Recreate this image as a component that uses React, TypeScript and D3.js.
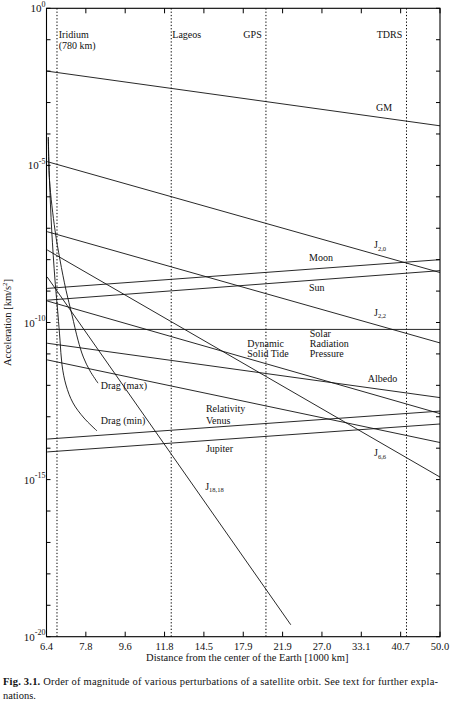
import React from "react";
import * as d3 from "d3";

// ---------- data (x in 1000 km, y as log10 of acceleration in km/s^2) ----------
const xTickLabels = ["6.4", "7.8", "9.6", "11.8", "14.5", "17.9", "21.9", "27.0", "33.1", "40.7", "50.0"];
const yTickExponents = [0, -5, -10, -15, -20];
const yMinorExponents = d3.range(-20, 1);

const lineNames = ["GM", "J20", "J22", "J66", "J1818", "Moon", "Sun", "SRP", "SolidTide", "Albedo", "Relativity", "Venus", "Jupiter"];
const lineX0 = [6.4, 6.4, 6.4, 6.4, 6.4, 6.4, 6.4, 6.4, 6.4, 6.4, 6.4, 6.4, 6.4];
const lineX1 = [50, 50, 50, 50, 22.9, 50, 50, 50, 50, 50, 50, 50, 50];
const lineLog0 = [-2.0, -4.88, -7.11, -7.69, -8.55, -8.915, -9.29, -10.22, -9.315, -10.66, -11.19, -13.71, -14.12];
const lineLog1 = [-3.74, -8.41, -10.65, -14.92, -19.62, -8.0, -8.35, -10.22, -12.9, -12.39, -13.82, -12.82, -13.23];

const dragMaxX = [6.438, 6.479, 6.668, 6.845, 7.063, 7.288, 7.521, 7.733, 8.008, 8.351];
const dragMaxLog = [-4.1, -5.47, -7.06, -8.01, -8.97, -9.76, -10.56, -11.1, -11.54, -11.93];
const dragMinX = [6.438, 6.479, 6.554, 6.668, 6.774, 6.845, 6.917, 7.063, 7.327, 7.761, 8.307];
const dragMinLog = [-4.1, -5.47, -7.06, -8.65, -9.76, -10.56, -11.35, -11.99, -12.56, -13.04, -13.45];

const satNames = ["Iridium", "Lageos", "GPS", "TDRS"];
const satX = [6.738, 12.25, 20.11, 41.96];

// annotations
const labelText = ["Iridium", "(780 km)", "Lageos", "GPS", "TDRS", "GM", "J", "Moon", "Sun", "J", "Solar", "Radiation", "Pressure", "Dynamic", "Solid Tide", "Albedo", "Relativity", "Venus", "Jupiter", "Drag (max)", "Drag (min)", "J", "J"];
const labelSub = ["", "", "", "", "", "", "2,0", "", "", "2,2", "", "", "", "", "", "", "", "", "", "", "", "18,18", "6,6"];
const labelX = [6.8, 6.8, 12.32, 19.67, 41.04, 35.77, 35.4, 25.2, 25.2, 35.4, 25.3, 25.3, 25.3, 18.24, 18.24, 34.25, 14.69, 14.69, 14.69, 8.47, 8.47, 14.63, 35.4];
const labelLog = [-0.96, -1.28, -0.96, -0.96, -0.96, -3.27, -7.63, -8.04, -9.0, -9.79, -10.46, -10.78, -11.1, -10.77, -11.09, -11.88, -12.85, -13.23, -14.12, -12.12, -13.23, -15.33, -14.26];
const labelAnchor = ["start", "start", "start", "end", "end", "start", "start", "start", "start", "start", "start", "start", "start", "start", "start", "start", "start", "start", "start", "start", "start", "start", "start"];

const xTitle = "Distance from the center of the Earth [1000 km]";
const captionBold = "Fig. 3.1.";
const captionRest = " Order of magnitude of various perturbations of a satellite orbit. See text for further expla-";
const captionLine2 = "nations.";

// ---------- layout ----------
const W = 453;
const H = 706;
const L = 46.5, R = 440, T = 8.3, B = 636.7;
const FONT = "'Liberation Serif', 'DejaVu Serif', serif";

export default function App() {
  const x = d3.scaleLog().domain([6.378, 50]).range([L, R]);
  const y = d3.scaleLog().domain([1e-20, 1]).range([B, T]);
  const yl = (v: number) => y(Math.pow(10, v));

  const xTickVals = xTickLabels.map((_, k) => 6.378 * Math.pow(50 / 6.378, k / 10));

  const line = d3.line<[number, number]>().x((d) => x(d[0])).y((d) => yl(d[1]));
  const curve = d3
    .line<[number, number]>()
    .x((d) => x(d[0]))
    .y((d) => yl(d[1]))
    .curve(d3.curveCatmullRom.alpha(0.5));

  const straight = lineNames.map((n, i) => ({
    name: n,
    pts: [
      [lineX0[i], lineLog0[i]],
      [lineX1[i], lineLog1[i]],
    ] as [number, number][],
  }));
  const dragMax = dragMaxX.map((v, i) => [v, dragMaxLog[i]] as [number, number]);
  const dragMin = dragMinX.map((v, i) => [v, dragMinLog[i]] as [number, number]);

  const fs = 10;
  const ts = { fontFamily: FONT };

  return (
    <svg width={W} height={H} style={{ position: "absolute", left: 0, top: 0, background: "#fff" }}>
      <rect x={0} y={0} width={W} height={H} fill="#fff" />
      {satNames.map((s, i) => (
        <line
          key={s}
          x1={x(satX[i])}
          x2={x(satX[i])}
          y1={T}
          y2={B}
          stroke="#000"
          strokeWidth={1}
          strokeDasharray="1.3,2"
        />
      ))}
      {straight.map((s) => (
        <path key={s.name} d={line(s.pts) || ""} fill="none" stroke="#111" strokeWidth={0.9} />
      ))}
      <path d={curve(dragMax) || ""} fill="none" stroke="#111" strokeWidth={0.9} />
      <path d={curve(dragMin) || ""} fill="none" stroke="#111" strokeWidth={0.9} />

      <rect x={L} y={T} width={R - L} height={B - T} fill="none" stroke="#000" strokeWidth={1.1} />

      {xTickVals.map((v, i) => (
        <g key={"xt" + i}>
          <line x1={x(v)} x2={x(v)} y1={B} y2={B - 5} stroke="#000" strokeWidth={1} />
          <line x1={x(v)} x2={x(v)} y1={T} y2={T + 5} stroke="#000" strokeWidth={1} />
          <text x={x(v)} y={B + 13.5} fontSize={10.5} textAnchor="middle" fill="#111" style={ts}>
            {xTickLabels[i]}
          </text>
        </g>
      ))}
      {yMinorExponents.map((e) => (
        <g key={"yt" + e}>
          <line x1={L} x2={L + 4} y1={yl(e)} y2={yl(e)} stroke="#000" strokeWidth={1} />
          <line x1={R} x2={R - 4} y1={yl(e)} y2={yl(e)} stroke="#000" strokeWidth={1} />
        </g>
      ))}
      {yTickExponents.map((e) => (
        <text key={"yl" + e} x={L - 1} y={yl(e) + 4} fontSize={11} textAnchor="end" fill="#111" style={ts}>
          10
          <tspan fontSize={8} dy={-5.5}>
            {e === 0 ? "0" : "-" + Math.abs(e)}
          </tspan>
        </text>
      ))}

      {labelText.map((t, i) => (
        <text
          key={"lab" + i}
          x={x(labelX[i])}
          y={yl(labelLog[i])}
          fontSize={fs}
          textAnchor={labelAnchor[i]}
          fill="#111"
          style={ts}
        >
          {t}
          {labelSub[i] ? (
            <tspan fontSize={6.5} dy={2.5}>
              {labelSub[i]}
            </tspan>
          ) : null}
        </text>
      ))}

      <text x={(L + R) / 2 + 4} y={B + 24.5} fontSize={10.5} textAnchor="middle" fill="#111" style={ts}>
        {xTitle}
      </text>
      <text
        transform={`translate(11,${(T + B) / 2})`}
        fontSize={10.5}
        textAnchor="middle"
        fill="#111"
        style={ts}
      >
        <tspan transform="rotate(-90)"></tspan>
      </text>
      <g transform={`translate(11,${(T + B) / 2}) rotate(-90)`}>
        <text x={0} y={0} fontSize={10.5} textAnchor="middle" fill="#111" style={ts}>
          Acceleration [km/s
          <tspan fontSize={7} dy={-4}>
            2
          </tspan>
          <tspan dy={4}>]</tspan>
        </text>
      </g>

      <text x={3} y={685} fontSize={10.5} fill="#111" textLength={435} lengthAdjust="spacing" style={ts}>
        <tspan fontWeight="bold">{captionBold}</tspan>
        {captionRest}
      </text>
      <text x={3} y={699} fontSize={10.5} fill="#111" style={ts}>
        {captionLine2}
      </text>
    </svg>
  );
}
